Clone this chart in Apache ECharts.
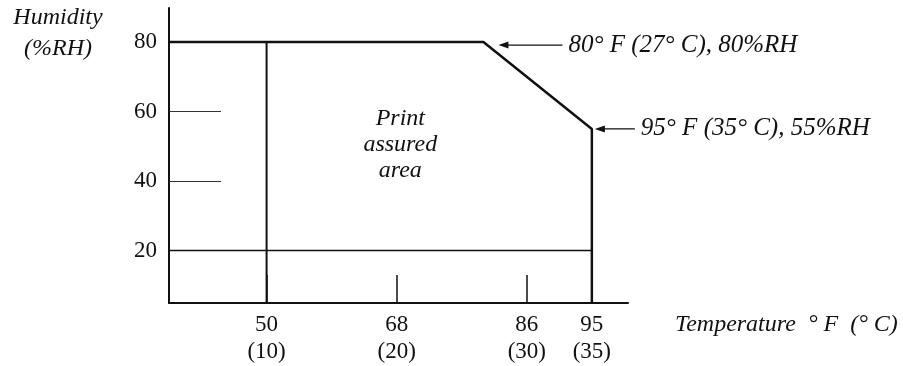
<!DOCTYPE html>
<html>
<head>
<meta charset="utf-8">
<script src="https://cdn.jsdelivr.net/npm/echarts@6/dist/echarts.min.js"></script>
<style>
  html, body { margin: 0; padding: 0; background: #fff; }
  #chart { width: 903px; height: 366px; }
</style>
</head>
<body>
<div id="chart"></div>
<script>
// axis ticks
const tempF = [50, 68, 86, 95]
const tempC = [10, 20, 30, 35]
const humidityTicks = [20, 40, 60, 80]

// axis extent (schematic drawing, origin is not at zero)
const X_MIN = 36.5
const X_MAX = 100
const Y_MIN = 4.9
const Y_MAX = 89.8

// edges of the print assured area
const upperEdge = [[X_MIN, 80], [80, 80], [95, 55], [95, Y_MIN]]
const lowerEdge = [[X_MIN, 20], [95, 20]]
const coldEdge = [[50, 80], [50, Y_MIN]]

// corner callouts
const cornerPoints = [[80, 80], [95, 55]]
const cornerLabels = ['80° F (27° C), 80%RH', '95° F (35° C), 55%RH']

const areaLabelPos = [68.5, 50.5]
const areaLabel = 'Print\nassured\narea'

const SERIF = '"Liberation Serif", "DejaVu Serif", serif'
const INK = '#111'

const chart = echarts.init(document.getElementById('chart'), null, { renderer: 'canvas' })

function edge(data, width) {
  return {
    type: 'line',
    data,
    symbol: 'none',
    silent: true,
    lineStyle: { color: INK, width },
  }
}

chart.setOption({
  animation: false,
  backgroundColor: '#fff',
  grid: { left: 169, right: 275, top: 8, bottom: 63 },
  xAxis: {
    type: 'value',
    min: X_MIN,
    max: X_MAX,
    axisLine: { lineStyle: { color: INK, width: 2 } },
    axisTick: { inside: true, length: 28, customValues: tempF, lineStyle: { color: INK, width: 1.5 } },
    axisLabel: {
      customValues: tempF,
      margin: 8,
      color: INK,
      fontFamily: SERIF,
      fontSize: 23,
      lineHeight: 27,
      formatter: v => `${v}\n(${tempC[tempF.indexOf(v)]})`,
    },
    splitLine: { show: false },
  },
  yAxis: {
    type: 'value',
    min: Y_MIN,
    max: Y_MAX,
    axisLine: { lineStyle: { color: INK, width: 2 } },
    axisTick: { inside: true, length: 52, customValues: humidityTicks, lineStyle: { color: '#333', width: 1.2 } },
    axisLabel: {
      customValues: humidityTicks,
      margin: 12,
      color: INK,
      fontFamily: SERIF,
      fontSize: 23,
    },
    splitLine: { show: false },
  },
  series: [
    edge(upperEdge, 2.5),
    edge(lowerEdge, 1.6),
    edge(coldEdge, 2),
  ],
})

// callouts, area label and axis titles, placed from data pixels
const arrowGaps = [[15, 79], [3, 43]]
const graphics = []
cornerPoints.forEach((pt, i) => {
  const [px, py] = chart.convertToPixel({ gridIndex: 0 }, pt)
  const y = py + (i === 0 ? 3 : 0)
  const x1 = px + arrowGaps[i][0]
  const x2 = px + arrowGaps[i][1]
  graphics.push({
    type: 'line', silent: true,
    shape: { x1: x1 + 6, y1: y, x2, y2: y },
    style: { stroke: INK, lineWidth: 1.3 },
  })
  graphics.push({
    type: 'polygon', silent: true,
    shape: { points: [[x1, y], [x1 + 10, y - 3.5], [x1 + 10, y + 3.5]] },
    style: { fill: INK },
  })
  graphics.push({
    type: 'text', silent: true,
    style: {
      text: cornerLabels[i], x: x2 + 6, y,
      font: `italic 25px ${SERIF}`, fill: INK, verticalAlign: 'middle',
    },
  })
})
const [ax, ay] = chart.convertToPixel({ gridIndex: 0 }, areaLabelPos)
graphics.push({
  type: 'text', silent: true,
  style: {
    text: areaLabel, x: ax, y: ay, align: 'center', verticalAlign: 'middle', lineHeight: 26,
    font: `italic 24px ${SERIF}`, fill: INK,
  },
})
graphics.push({
  type: 'text', silent: true,
  style: {
    text: 'Humidity\n(%RH)', x: 58, y: 2, align: 'center', lineHeight: 31,
    font: `italic 24px ${SERIF}`, fill: INK,
  },
})
graphics.push({
  type: 'text', silent: true,
  style: {
    text: 'Temperature  ° F  (° C)', x: 675, y: 325,
    font: `italic 24px ${SERIF}`, fill: INK, verticalAlign: 'middle',
  },
})
chart.setOption({ graphic: graphics })
</script>
</body>
</html>
